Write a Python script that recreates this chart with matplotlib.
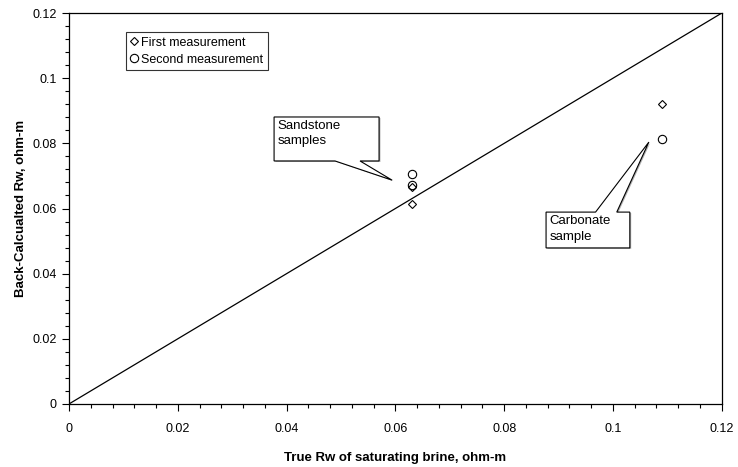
import matplotlib.pyplot as plt
from matplotlib.patches import Polygon
from matplotlib.ticker import MultipleLocator

plt.rcParams['font.family'] = ['Liberation Sans', 'DejaVu Sans']

# measured data, ohm-m
true_rw_first = [0.063, 0.063, 0.109]
calc_rw_first = [0.0614, 0.0665, 0.0921]
true_rw_second = [0.063, 0.063, 0.109]
calc_rw_second = [0.0706, 0.0672, 0.0813]

ticks = [0, 0.02, 0.04, 0.06, 0.08, 0.1, 0.12]
tick_labels = ["0", "0.02", "0.04", "0.06", "0.08", "0.1", "0.12"]


def callout(ax, text, box, base, tip):
    # box = (x0, y0, x1, y1), base = two x positions on the box edge, tip = (x, y)
    x0, y0, x1, y1 = box
    if tip[1] < y0:
        pts = [(x0, y1), (x1, y1), (x1, y0), (base[1], y0), tip, (base[0], y0), (x0, y0)]
    else:
        pts = [(x0, y0), (x0, y1), (base[0], y1), tip, (base[1], y1), (x1, y1), (x1, y0)]
    shadow = Polygon([(px + 0.00025, py - 0.0003) for px, py in pts], closed=True,
                     facecolor="#b0b0b0", edgecolor="none", zorder=3)
    ax.add_patch(shadow)
    ax.add_patch(Polygon(pts, closed=True, facecolor="white", edgecolor="black",
                         linewidth=0.8, zorder=4))
    ax.text(x0 + 0.0006, y1 - 0.0010, text, ha="left", va="top", fontsize=9.5,
            linespacing=1.35, zorder=5)


fig = plt.figure(figsize=(7.38, 4.67), dpi=100)
ax = fig.add_axes([0.0935, 0.135, 0.8845, 0.837])

ax.plot([0, 0.12], [0, 0.12], color="black", linewidth=0.9, zorder=2)
ax.plot(true_rw_first, calc_rw_first, linestyle="none", marker="D", markersize=4.2,
        markerfacecolor="white", markeredgecolor="black", markeredgewidth=0.8,
        label="First measurement", zorder=6)
ax.plot(true_rw_second, calc_rw_second, linestyle="none", marker="o", markersize=6,
        markerfacecolor="none", markeredgecolor="black", markeredgewidth=0.8,
        label="Second measurement", zorder=6)

callout(ax, "Sandstone\nsamples", (0.0377, 0.0746, 0.0570, 0.0881),
        (0.0489, 0.0535), (0.0594, 0.0687))
callout(ax, "Carbonate\nsample", (0.0877, 0.0479, 0.1031, 0.0589),
        (0.0968, 0.1007), (0.1066, 0.0804))

ax.set_xlim(0, 0.12)
ax.set_ylim(0, 0.12)
ax.set_xticks(ticks)
ax.set_xticklabels(tick_labels)
ax.set_yticks(ticks)
ax.set_yticklabels(tick_labels)
ax.xaxis.set_minor_locator(MultipleLocator(0.004))
ax.yaxis.set_minor_locator(MultipleLocator(0.004))
ax.tick_params(which="major", direction="out", length=5, width=0.8, labelsize=9, pad=4)
ax.tick_params(which="minor", direction="out", length=3, width=0.8)
ax.tick_params(axis="x", pad=9)
for s in ax.spines.values():
    s.set_linewidth(0.9)

ax.set_xlabel("True Rw of saturating brine, ohm-m", fontsize=9.5, fontweight="bold", labelpad=12)
ax.set_ylabel("Back-Calcualted Rw, ohm-m", fontsize=9.5, fontweight="bold", labelpad=4)

leg = ax.legend(loc="upper left", bbox_to_anchor=(0.087, 0.951), fontsize=9,
                frameon=True, fancybox=False, handlelength=0.6, handletextpad=0.3,
                borderpad=0.35, labelspacing=0.4, borderaxespad=0)
leg.get_frame().set_edgecolor("black")
leg.get_frame().set_linewidth(0.8)

fig.savefig("out.png", dpi=100)
